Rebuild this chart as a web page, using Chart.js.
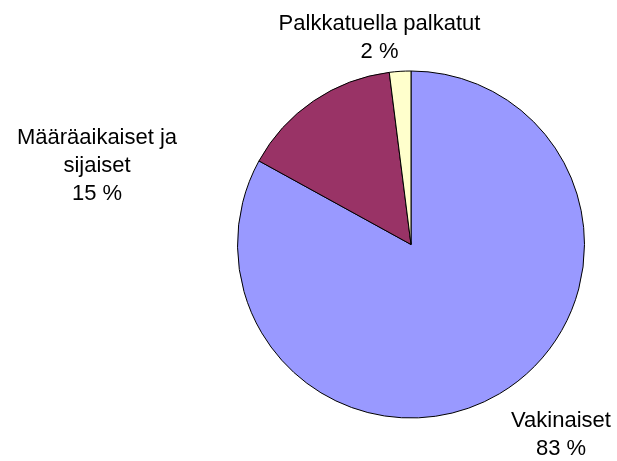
<!DOCTYPE html>
<html>
<head>
<meta charset="utf-8">
<script src="https://cdn.jsdelivr.net/npm/chart.js@4/dist/chart.umd.min.js"></script>
<style>
  html, body { margin: 0; padding: 0; background: #ffffff; }
  #wrap { position: relative; width: 617px; height: 461px; }
</style>
</head>
<body>
<div id="wrap"><canvas id="c"></canvas></div>
<script>
// ---- data ----
const categories = ["Vakinaiset", ["Määräaikaiset ja", "sijaiset"], "Palkkatuella palkatut"];
const percentages = [83, 15, 2];
const sliceColors = ["#9999FF", "#993366", "#FFFFCC"];

// label anchor offsets relative to the pie centre (in pixels), per slice
const labelOffsets = [
  { dx: 150, dy: 182.5 },
  { dx: -314, dy: -100.5 },
  { dx: -31.5, dy: -214.5 }
];

const labelPlugin = {
  id: 'pieLabels',
  afterDatasetsDraw(chart) {
    const ctx = chart.ctx;
    const meta = chart.getDatasetMeta(0);
    const lineH = 28;
    ctx.save();
    ctx.font = '22px "Liberation Sans", Arial, sans-serif';
    ctx.fillStyle = '#000000';
    ctx.textAlign = 'center';
    ctx.textBaseline = 'alphabetic';
    meta.data.forEach((arc, i) => {
      const cat = chart.data.labels[i];
      const lines = (Array.isArray(cat) ? cat.slice() : [cat]);
      lines.push(chart.data.datasets[0].data[i] + ' %');
      const off = labelOffsets[i];
      const x = arc.x + off.dx;
      let y = arc.y + off.dy;
      lines.forEach((t, k) => {
        ctx.fillText(t, x, y + k * lineH);
      });
    });
    ctx.restore();
  }
};

new Chart(document.getElementById('c'), {
  type: 'pie',
  data: {
    labels: categories,
    datasets: [{
      data: percentages,
      backgroundColor: sliceColors,
      borderColor: '#000000',
      borderWidth: 1,
      hoverOffset: 0
    }]
  },
  options: {
    responsive: true,
    maintainAspectRatio: false,
    animation: false,
    rotation: 0,
    layout: { padding: { left: 237, top: 70, right: 32, bottom: 42 } },
    plugins: {
      legend: { display: false },
      tooltip: { enabled: false }
    }
  },
  plugins: [labelPlugin]
});
</script>
</body>
</html>
